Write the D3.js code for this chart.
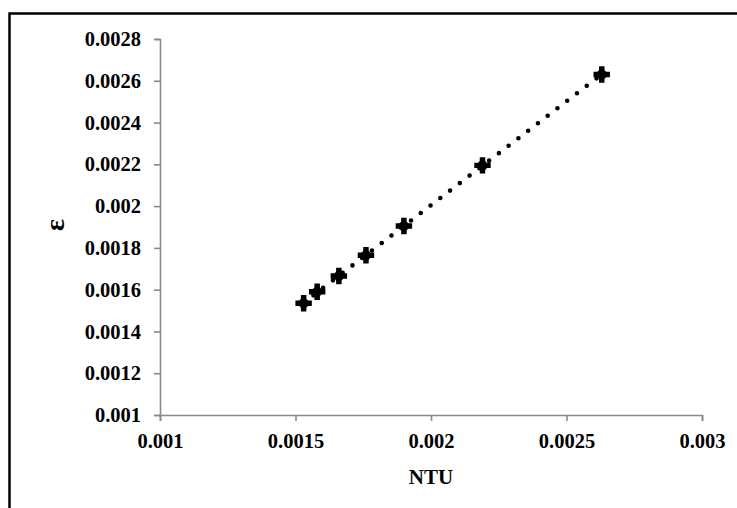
<!DOCTYPE html>
<html>
<head>
	<script src="https://cdn.jsdelivr.net/npm/d3@7"></script>
	<style>
		body { margin: 0; background: #fff; }
		text { font-family: "Liberation Serif", "Times New Roman", serif; font-weight: bold; }
	</style>
</head>
<body>
	<script>
		// values
		var ntu = [0.00153, 0.00158, 0.00166, 0.00176, 0.0019, 0.00219, 0.00263];
		var eps = [0.001535, 0.00159, 0.001665, 0.001765, 0.001905, 0.002195, 0.00263];
		var xTicks = [0.001, 0.0015, 0.002, 0.0025, 0.003];
		var yTicks = [0.001, 0.0012, 0.0014, 0.0016, 0.0018, 0.002, 0.0022, 0.0024, 0.0026, 0.0028];

		var width = 737, height = 508;
		var plotLeft = 160, plotRight = 702, plotTop = 39, plotBottom = 415;

		var svg = d3.select('body').append('svg')
			.attr('width', width)
			.attr('height', height);

		// outer frame
		svg.append('path')
			.attr('d', 'M9.5,' + height + 'V13.5H' + width)
			.attr('fill', 'none')
			.attr('stroke', '#000')
			.attr('stroke-width', 2.5);

		var x = d3.scaleLinear().domain([0.001, 0.003]).range([plotLeft, plotRight]);
		var y = d3.scaleLinear().domain([0.001, 0.0028]).range([plotBottom, plotTop]);

		var fmt = function(d) { return String(+d.toPrecision(6)); };

		var xAxis = svg.append('g')
			.attr('transform', 'translate(0,' + plotBottom + ')')
			.call(d3.axisBottom(x).tickValues(xTicks).tickSize(6).tickPadding(12).tickFormat(fmt));

		var yAxis = svg.append('g')
			.attr('transform', 'translate(' + plotLeft + ',0)')
			.call(d3.axisLeft(y).tickValues(yTicks).tickSize(6).tickPadding(13).tickFormat(fmt));

		[xAxis, yAxis].forEach(function(a) {
			a.select('.domain').attr('stroke', '#898989').attr('stroke-width', 1.6);
			a.selectAll('.tick line').attr('stroke', '#898989').attr('stroke-width', 1.6);
			a.selectAll('.tick text')
				.attr('fill', '#000')
				.style('font-size', '20.5px')
				.style('font-family', '"Liberation Serif", serif')
				.style('font-weight', 'bold');
		});
		xAxis.selectAll('.tick text').attr('dy', '0.71em');

		// dotted linear trend line
		var mx = d3.mean(ntu), my = d3.mean(eps);
		var sxy = d3.sum(ntu, function(d, i) { return (d - mx) * (eps[i] - my); });
		var sxx = d3.sum(ntu, function(d) { return (d - mx) * (d - mx); });
		var slope = sxy / sxx, icpt = my - slope * mx;
		var ext = d3.extent(ntu);

		svg.append('line')
			.attr('x1', x(ext[0])).attr('y1', y(icpt + slope * ext[0]))
			.attr('x2', x(ext[1])).attr('y2', y(icpt + slope * ext[1]))
			.attr('stroke', '#000')
			.attr('stroke-width', 4.6)
			.attr('stroke-linecap', 'round')
			.attr('stroke-dasharray', '0 12.3');

		// markers: fat cross over a tilted square
		var pts = svg.append('g').selectAll('g')
			.data(ntu)
			.enter().append('g')
			.attr('transform', function(d, i) { return 'translate(' + x(d) + ',' + y(eps[i]) + ')'; });

		pts.append('path')
			.attr('d', d3.symbol().type(d3.symbolCross).size(150))
			.attr('fill', '#000');
		pts.append('path')
			.attr('d', d3.symbol().type(d3.symbolSquare).size(100))
			.attr('transform', 'rotate(45)')
			.attr('fill', '#000');

		// axis titles
		svg.append('text')
			.attr('x', (plotLeft + plotRight) / 2)
			.attr('y', 484)
			.attr('text-anchor', 'middle')
			.style('font-size', '21px')
			.text('NTU');

		svg.append('text')
			.attr('transform', 'translate(64,225) rotate(-90)')
			.attr('text-anchor', 'middle')
			.style('font-size', '28px')
			.text('ε');
	</script>
</body>
</html>
